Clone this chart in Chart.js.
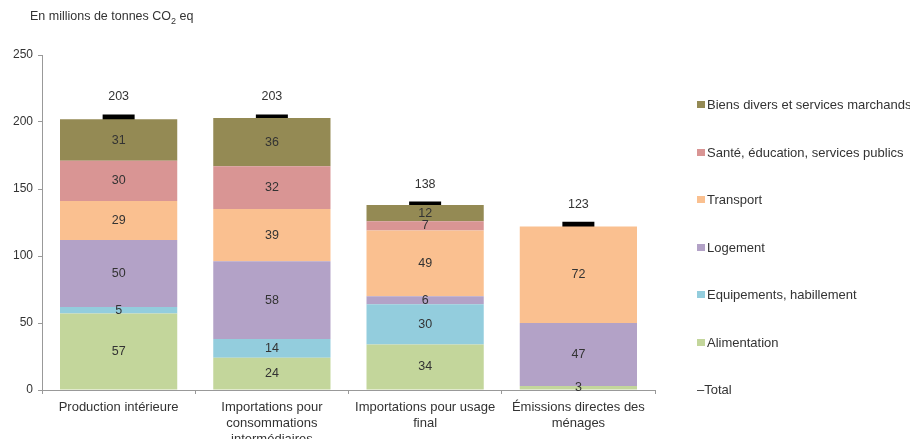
<!DOCTYPE html>
<html>
<head>
<meta charset="utf-8">
<script src="https://cdn.jsdelivr.net/npm/chart.js@4/dist/chart.umd.min.js"></script>
<style>
  body { margin: 0; background: #fff; font-family: "Liberation Sans", Arial, sans-serif; }
  #wrap { position: relative; width: 910px; height: 439px; overflow: hidden; }
  #unit { position: absolute; left: 30px; top: 9px; font-size: 12.5px; color: #333; }
  #legend { position: absolute; left: 697px; top: 0; font-size: 13px; color: #333; }
  .item { position: absolute; left: 0; white-space: nowrap; line-height: 15px; }
  .box { display: inline-block; width: 8px; height: 7px; margin-right: 2px; vertical-align: 1px; }
</style>
</head>
<body>
<div id="wrap">
  <canvas id="main_chart" width="910" height="439"></canvas>
  <div id="unit">En millions de tonnes CO<sub style="font-size:9px">2</sub> eq</div>
  <div id="legend"></div>
</div>
<script>
const categories = [
  "Production intérieure",
  ["Importations pour", "consommations", "intermédiaires"],
  ["Importations pour usage", "final"],
  ["Émissions directes des", "ménages"]
];
const alimentation = [57, 24, 34, 3];
const equipements = [5, 14, 30, 0];
const logement = [50, 58, 6, 47];
const transport = [29, 39, 49, 72];
const sante = [30, 32, 7, 0];
const biens = [31, 36, 12, 0];
const totals = [203, 203, 138, 123];
const yTicks = [0, 50, 100, 150, 200, 250];

const series = [
  { label: "Alimentation", data: alimentation, color: "#c3d69b" },
  { label: "Equipements, habillement", data: equipements, color: "#93cddd" },
  { label: "Logement", data: logement, color: "#b3a2c7" },
  { label: "Transport", data: transport, color: "#fac090" },
  { label: "Santé, éducation, services publics", data: sante, color: "#d99594" },
  { label: "Biens divers et services marchands", data: biens, color: "#948a54" }
];

// labels inside the segments and above the totals
const valueLabels = {
  id: 'valueLabels',
  afterDatasetsDraw(chart) {
    const ctx = chart.ctx;
    ctx.save();
    ctx.font = '12.5px "Liberation Sans", Arial, sans-serif';
    ctx.fillStyle = '#333';
    ctx.textAlign = 'center';
    ctx.textBaseline = 'middle';
    chart.data.datasets.forEach((ds, i) => {
      const meta = chart.getDatasetMeta(i);
      meta.data.forEach((el, j) => {
        const v = ds.data[j];
        if (!v) return;
        if (ds.type === 'line') {
          ctx.fillText(v, el.x, el.y - 21);
        } else {
          ctx.fillText(v, el.x, (el.y + el.base) / 2);
        }
      });
    });
    ctx.restore();
  }
};

const datasets = series.map(s => ({
  type: 'bar',
  label: s.label,
  data: s.data,
  backgroundColor: s.color,
  borderWidth: 0,
  stack: 'conso',
  barPercentage: 0.765,
  categoryPercentage: 1
}));
datasets.push({
  type: 'line',
  label: 'Total',
  data: totals,
  stack: 'total',
  showLine: false,
  pointStyle: 'line',
  pointRadius: 16,
  pointHoverRadius: 16,
  pointBorderWidth: 7,
  borderColor: '#000',
  backgroundColor: '#000'
});

new Chart(document.getElementById('main_chart'), {
  data: { labels: categories, datasets: datasets },
  options: {
    responsive: false,
    animation: false,
    layout: { padding: { top: 55, right: 255, left: 0, bottom: 0 } },
    plugins: { legend: { display: false }, tooltip: { enabled: false } },
    scales: {
      x: {
        stacked: true,
        grid: { drawOnChartArea: false, tickLength: 4, color: '#999' },
        border: { color: '#999' },
        ticks: { color: '#333', padding: 6, font: { size: 13, family: '"Liberation Sans", Arial', lineHeight: 1.2 }, maxRotation: 0 },
        afterFit: (scale) => { scale.height = 49; }
      },
      y: {
        stacked: true,
        min: 0,
        max: 250,
        afterBuildTicks: (scale) => { scale.ticks = yTicks.map(v => ({ value: v })); },
        grid: { drawOnChartArea: false, tickLength: 4, color: '#999' },
        border: { color: '#999' },
        ticks: { color: '#333', padding: 5, font: { size: 12, family: '"Liberation Sans", Arial' } },
        afterFit: (scale) => { scale.width = 42; }
      }
    }
  },
  plugins: [valueLabels]
});

// legend on the right, top entry first
const legend = document.getElementById('legend');
const legendTops = [97, 145, 192, 240, 287, 335, 382];
const entries = series.slice().reverse().concat([{ label: 'Total', color: null }]);
entries.forEach((e, i) => {
  const div = document.createElement('div');
  div.className = 'item';
  div.style.top = legendTops[i] + 'px';
  if (e.color) {
    div.innerHTML = '<span class="box" style="background:' + e.color + '"></span>' + e.label;
  } else {
    div.textContent = '\u2013' + e.label;
  }
  legend.appendChild(div);
});
</script>
</body>
</html>
